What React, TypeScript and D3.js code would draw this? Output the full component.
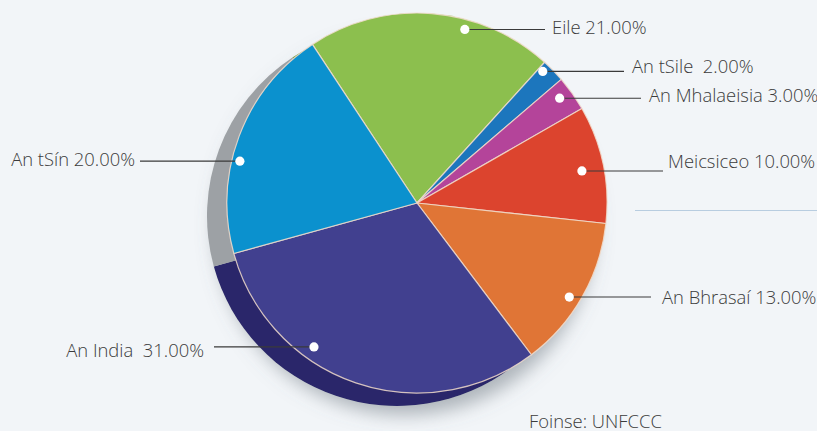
import React from "react";
import * as d3 from "d3";

// ---- data ----
const categories = [
  "Eile",
  "An tSile",
  "An Mhalaeisia",
  "Meicsiceo",
  "An Bhrasaí",
  "An India",
  "An tSín",
];
const shares = [21, 2, 3, 10, 13, 31, 20];
const labelTexts = [
  "Eile 21.00%",
  "An tSile  2.00%",
  "An Mhalaeisia 3.00%",
  "Meicsiceo 10.00%",
  "An Bhrasaí 13.00%",
  "An India  31.00%",
  "An tSín 20.00%",
];
const sourceText = "Foinse: UNFCCC";

// ---- styles / layout ----
const topColors = ["#8cbf4e", "#1c76bd", "#b4449a", "#dc442e", "#e07536", "#41408f", "#0b91ce"];
const sideColors = ["#6f9a3c", "#155d96", "#8a3477", "#a8331f", "#b05a28", "#29256a", "#9da1a5"];
// dot angle offset from slice middle (degrees), dot radius, and label layout
const dotOffsets = [11, -2.1, -1.1, 0.8, 2.1, 16.8, -7.3];
const dotRadii = [180, 182, 177, 168, 179, 177, 182];
const labelSide = ["r", "r", "r", "r", "r", "l", "l"];
const lineEndX = [545, 624, 641, 663, 651, 214, 140];
const textX = [552, 632, 649, 668, 662, 204, 135];
const textBaselineDy = [5, 2, 4, -3, 7, 10, 5];

const W = 817;
const H = 431;
const cx = 417;
const cy = 203;
const R = 190;
const sideDx = -20;
const sideDy = 13;
const startDeg = -33.4;

export default function App() {
  const pie = d3
    .pie<number>()
    .sort(null)
    .value((d) => d)
    .startAngle((startDeg * Math.PI) / 180)
    .endAngle(((startDeg + 360) * Math.PI) / 180);
  const arcs = pie(shares);
  const arc = d3.arc<d3.PieArcDatum<number>>().innerRadius(0).outerRadius(R);

  const font = "'Open Sans', 'Noto Sans', sans-serif";

  return (
    <div style={{ position: "absolute", left: 0, top: 0 }}>
      <svg width={W} height={H} style={{ display: "block" }}>
        <defs>
          <filter id="ds" x="-25%" y="-25%" width="150%" height="150%">
            <feDropShadow dx="8" dy="9" stdDeviation="9" floodColor="#69737d" floodOpacity="0.5" />
          </filter>
        </defs>
        <rect width={W} height={H} fill="#f2f5f8" />
        {/* light divider line */}
        <line x1={635} x2={W} y1={210.5} y2={210.5} stroke="#b8cde0" strokeWidth={1.2} />
        {/* side / extrusion */}
        <g transform={`translate(${cx + sideDx},${cy + sideDy})`} filter="url(#ds)">
          {arcs.map((a, i) => (
            <path key={i} d={arc(a) || ""} fill={sideColors[i]} />
          ))}
        </g>
        {/* top face */}
        <g transform={`translate(${cx},${cy})`}>
          {arcs.map((a, i) => (
            <path key={i} d={arc(a) || ""} fill={topColors[i]} stroke="#f1dccb" strokeOpacity={0.85} strokeWidth={1.2} strokeLinejoin="round" />
          ))}
        </g>
        {/* labels */}
        {arcs.map((a, i) => {
          const mid = (a.startAngle + a.endAngle) / 2 + (dotOffsets[i] * Math.PI) / 180;
          const dx = cx + dotRadii[i] * Math.sin(mid);
          const dy = cy - dotRadii[i] * Math.cos(mid);
          return (
            <g key={i}>
              <line x1={dx} y1={dy} x2={lineEndX[i]} y2={dy} stroke="#3a3a3a" strokeWidth={1.1} />
              <circle cx={dx} cy={dy} r={4.6} fill="#ffffff" />
              <text
                x={textX[i]}
                y={dy + textBaselineDy[i]}
                textAnchor={labelSide[i] === "r" ? "start" : "end"}
                fontFamily={font}
                fontWeight={300}
                fontSize={18.4}
                fill="#3b3b3b"
                style={{ whiteSpace: "pre" }}
              >
                {labelTexts[i]}
              </text>
            </g>
          );
        })}
        <text x={529} y={428} fontFamily={font} fontWeight={300} fontSize={18.4} fill="#3b3b3b">
          {sourceText}
        </text>
      </svg>
    </div>
  );
}
